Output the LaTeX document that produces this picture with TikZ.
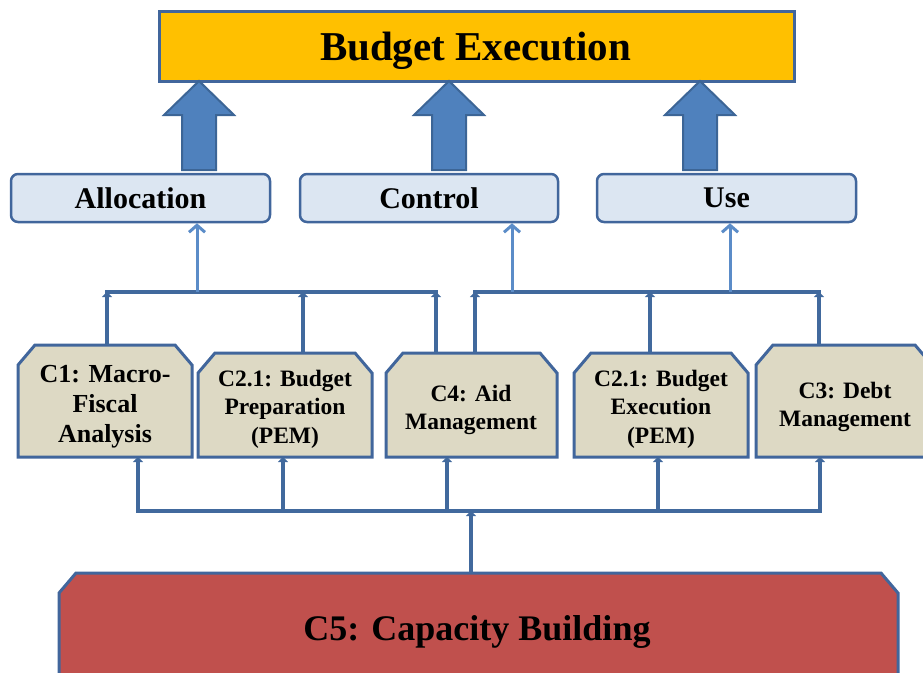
\documentclass[tikz,border=0pt]{standalone}
\usepackage{fontspec}
\setmainfont{Liberation Serif}
\usetikzlibrary{arrows.meta}
\definecolor{topfill}{HTML}{FFC000}
\definecolor{edgeblue}{HTML}{41669C}
\definecolor{arrowblue}{HTML}{4F81BD}
\definecolor{arrowedge}{HTML}{3C6596}
\definecolor{thinblue}{HTML}{5B8CC8}
\definecolor{midfill}{HTML}{DCE6F2}
\definecolor{tanfill}{HTML}{DDD9C4}
\definecolor{redfill}{HTML}{C0504D}
\definecolor{linkblue}{HTML}{41699D}
\tikzset{
  headbox/.style={draw=edgeblue, line width=2.5, fill=topfill, minimum width=635, minimum height=70, inner sep=0},
  headtext/.style={inner sep=0, font=\fontsize{41}{44}\selectfont\bfseries},
  midbox/.style={draw=edgeblue, line width=2.5, fill=midfill, rounded corners=7, minimum height=48, inner sep=0,
    font=\fontsize{30}{34}\selectfont\bfseries},
  comptext/.style={align=center, inner sep=0, font=\fontsize{23.5}{28.5}\selectfont\bfseries},
  bigtext/.style={align=center, inner sep=0, font=\fontsize{26}{30}\selectfont\bfseries},
  compframe/.style={draw=edgeblue, line width=3, fill=tanfill},
  baseframe/.style={draw=edgeblue, line width=3, fill=redfill},
  bigarrow/.style={draw=arrowedge, line width=2, fill=arrowblue, line join=miter},
  thinlink/.style={draw=thinblue, line width=3, -{Straight Barb[length=7,width=16,line width=3]}},
  link/.style={draw=linkblue, line width=4.5, -{Triangle[length=5,width=10]}},
  bar/.style={draw=linkblue, line width=4, line cap=rect},
}
% chamfered box: left, top, right, bottom
\newcommand\chamferbox[5][compframe]{%
  \path[#1] (#2,#5) -- (#2,#3+20) -- (#2+17,#3) -- (#4-17,#3) -- (#4,#3+20) -- (#4,#5) -- cycle;}
\begin{document}
\begin{tikzpicture}[x=1pt,y=-1pt]
\useasboundingbox (0,0) rectangle (923,672);

% top goal
\node[headbox, anchor=north west] (exec) at (158,10) {};
\node[headtext, anchor=base] (execlabel) at (475.5,60) {Budget Execution};

% wide block arrows into the goal
\foreach \cx in {199,449,700}{
  \path[bigarrow] (\cx,81) -- (\cx+35,115) -- (\cx+17,115) -- (\cx+17,170)
    -- (\cx-17,170) -- (\cx-17,115) -- (\cx-35,115) -- cycle;
}

% functions
\node[midbox, minimum width=259] (alloc) at (140.5,198) {Allocation};
\node[midbox, minimum width=258] (ctrl) at (429,198) {Control};
\node[midbox, minimum width=259] (use) at (726.5,198) {Use};

% component boxes
\chamferbox{18}{345}{192}{457}
\chamferbox{198}{353}{372}{457}
\chamferbox{386}{353}{557}{457}
\chamferbox{574}{353}{748}{457}
\chamferbox{756}{345}{932}{457}
\node[bigtext] (c1) at (105,407) {C1: Macro-\\Fiscal\\Analysis};
\node[comptext] (c2) at (285,409) {C2.1: Budget\\Preparation\\(PEM)};
\node[comptext] (c4) at (471,410) {C4: Aid\\Management};
\node[comptext] (c6) at (661,409) {C2.1: Budget\\Execution\\(PEM)};
\node[comptext] (c3) at (845,407) {C3: Debt\\Management};

% capacity building base
\chamferbox[baseframe]{59}{573}{898}{720}
\node[inner sep=0, font=\fontsize{36}{40}\selectfont\bfseries] (c5) at (477,632) {C5: Capacity Building};

% attachment points on the component boxes
\coordinate (c1t) at (107,345);
\coordinate (c2t) at (303,353);
\coordinate (c4tl) at (436,353);
\coordinate (c4tr) at (475,353);
\coordinate (c6t) at (650,353);
\coordinate (c3t) at (819,345);
\coordinate (c1b) at (138,457);
\coordinate (c2b) at (283,457);
\coordinate (c4b) at (447,457);
\coordinate (c6b) at (658,457);
\coordinate (c3b) at (820,457);
\coordinate (c5t) at (471,573);

% junctions
\coordinate (lj) at (197,292);
\coordinate (rj1) at (512,292);
\coordinate (rj2) at (730,292);
\coordinate (bj) at (471,511);

% upper collectors
\draw[bar] (c1t |- lj) -- (c4tl |- lj);
\draw[bar] (c4tr |- rj1) -- (c3t |- rj1);
\foreach \p in {c1t,c2t,c4tl,c4tr,c6t,c3t}
  \draw[link] (\p) -- (\p |- lj);
\draw[thinlink] (lj) -- (lj |- alloc.south);
\draw[thinlink] (rj1) -- (rj1 |- ctrl.south);
\draw[thinlink] (rj2) -- (rj2 |- use.south);

% lower distributor
\draw[bar] (c1b |- bj) -- (c3b |- bj);
\foreach \p in {c1b,c2b,c4b,c6b,c3b}
  \draw[link] (\p |- bj) -- (\p);
\draw[link] (c5t) -- (bj);
\end{tikzpicture}
\end{document}
